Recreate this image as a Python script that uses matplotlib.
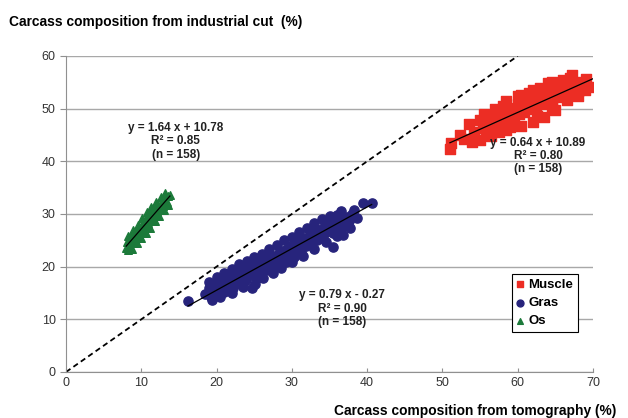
import matplotlib
matplotlib.use("Agg")
import matplotlib.pyplot as plt

plt.rcParams['font.family'] = ['Liberation Sans', 'DejaVu Sans']

# Muscle (red squares)
muscle_x = [51.0, 51.1, 52.3, 52.8, 53.9, 54.2, 55.0, 55.0, 55.4, 55.8, 56.0, 56.3, 56.6,
            56.9, 57.2, 57.4, 57.7, 58.0, 58.2, 58.5, 58.7, 59.0, 59.2, 59.5, 59.7, 60.0,
            60.2, 60.4, 60.7, 60.9, 61.2, 61.4, 61.7, 61.9, 62.1, 62.4, 62.6, 62.9, 63.1,
            63.3, 63.6, 63.8, 64.1, 64.3, 64.6, 64.8, 65.1, 65.3, 65.6, 65.9, 66.1, 66.4,
            66.7, 67.0, 67.2, 67.5, 67.8, 68.1, 68.5, 69.1, 69.8, 58.0, 60.5, 62.0, 64.0,
            53.5, 55.5, 57.0, 58.5, 60.0, 61.5, 63.0, 64.5, 66.0, 67.0,
            56.5, 57.5, 58.5, 59.0, 60.5, 62.0, 62.5, 63.5, 64.5, 65.0, 66.5, 68.0, 69.0]
muscle_y = [42.4, 43.4, 45.0, 44.2, 43.7, 45.6, 44.0, 47.8, 46.3, 45.2, 48.0, 46.8, 47.6,
            45.8, 48.6, 47.2, 49.0, 46.9, 48.2, 49.5, 47.6, 48.8, 50.2, 48.1, 49.6, 50.8,
            48.9, 50.1, 51.2, 49.4, 50.6, 51.8, 50.0, 51.0, 52.2, 50.5, 51.6, 52.6, 50.9,
            52.0, 53.0, 51.4, 52.4, 53.4, 51.8, 52.8, 53.8, 52.2, 53.2, 54.2, 52.6, 53.6,
            54.6, 53.0, 56.4, 54.0, 55.0, 53.5, 54.5, 55.7, 54.1, 50.6, 52.6, 53.6, 54.8,
            47.0, 49.0, 50.0, 51.5, 52.5, 53.0, 54.0, 55.0, 55.5, 55.9,
            44.9, 45.5, 45.9, 46.5, 46.8, 47.5, 48.6, 48.5, 50.2, 49.8, 51.6, 52.5, 53.6]

# Gras (navy circles)
gras_x = [16.2, 18.5, 19.0, 19.3, 19.4, 19.8, 20.1, 20.4, 20.7, 21.0, 21.2, 21.5, 21.8,
          22.0, 22.2, 22.5, 22.7, 23.0, 23.2, 23.4, 23.6, 23.9, 24.1, 24.4, 24.7, 24.8,
          25.0, 25.1, 25.3, 25.5, 25.8, 26.0, 26.2, 26.3, 26.6, 26.8, 27.0, 27.2, 27.4,
          27.7, 27.9, 28.1, 28.3, 28.6, 28.8, 29.0, 29.2, 29.4, 29.7, 29.9, 30.1, 30.3,
          30.5, 30.8, 31.0, 31.2, 31.4, 31.7, 31.9, 32.1, 32.4, 32.6, 32.8, 33.0, 33.3,
          33.5, 33.7, 34.0, 34.2, 34.4, 34.7, 35.0, 35.3, 35.4, 35.5, 35.7, 36.0, 36.2,
          36.5, 36.8, 37.0, 37.3, 37.6, 38.0, 39.4, 40.7,
          19.0, 20.0, 21.0, 22.0, 23.0, 24.0, 25.0, 26.0, 27.0, 28.0, 29.0, 30.0, 31.0,
          32.0, 33.0, 34.0, 35.0, 36.5, 37.3, 38.3,
          20.5, 22.0, 23.5, 25.8, 27.5, 28.5, 30.0, 31.5, 33.0, 34.5, 36.0, 36.8, 37.7, 38.6]
gras_y = [13.5, 14.8, 15.9, 14.2, 13.7, 16.5, 15.2, 17.3, 16.0, 15.1, 17.8, 16.6, 18.2,
          17.0, 15.9, 18.6, 17.5, 19.1, 16.8, 18.0, 19.8, 17.4, 18.9, 20.2, 15.9, 19.3,
          18.2, 16.8, 20.6, 19.6, 21.0, 19.0, 17.8, 20.3, 21.4, 20.0, 19.4, 21.8, 20.7,
          22.1, 20.2, 21.3, 22.6, 21.0, 23.0, 22.0, 20.8, 23.4, 22.4, 24.0, 23.0, 21.9,
          24.4, 23.5, 25.0, 22.8, 24.2, 25.4, 23.9, 24.9, 26.0, 24.5, 25.6, 26.5, 25.1,
          27.0, 26.0, 25.4, 27.4, 26.4, 28.0, 27.0, 28.5, 23.8, 26.4, 27.6, 29.8, 28.2,
          27.3, 29.0, 28.0, 29.5, 28.6, 30.0, 32.0, 32.1,
          17.0, 18.0, 18.8, 19.5, 20.5, 21.0, 21.8, 22.5, 23.4, 24.2, 25.0, 25.6, 26.5,
          27.3, 28.2, 29.0, 29.6, 30.6, 28.8, 30.8,
          14.3, 15.0, 16.2, 18.0, 18.8, 19.8, 20.8, 22.0, 23.3, 24.6, 25.8, 26.0, 27.3, 29.2]

# Os (green triangles)
os_x = [8.0, 8.1, 8.3, 8.4, 8.5, 8.7, 8.8, 9.0, 9.1, 9.3, 9.4, 9.6, 9.7, 9.9, 10.0, 10.2,
        10.3, 10.5, 10.6, 10.8, 10.9, 11.1, 11.2, 11.4, 11.5, 11.7, 11.8, 12.0, 12.1, 12.3,
        12.5, 12.7, 12.9, 13.1, 13.4, 13.6, 13.8,
        8.3, 8.9, 9.5, 10.1, 10.7, 11.3, 11.9, 12.6, 13.2,
        8.8, 9.4, 10.0, 10.6, 11.2, 11.8, 12.4, 13.0, 13.5]
os_y = [23.6, 24.6, 23.2, 25.2, 24.0, 25.8, 24.5, 26.2, 25.0, 26.8, 25.6, 27.2, 26.0, 27.8,
        26.6, 28.2, 27.2, 28.8, 27.8, 29.3, 28.3, 29.8, 28.9, 30.3, 29.5, 30.8, 30.0, 31.2,
        30.5, 31.6, 31.0, 32.2, 31.6, 32.6, 32.3, 33.4, 33.6,
        25.8, 27.0, 28.0, 29.2, 30.3, 31.3, 32.2, 33.2, 34.0,
        23.4, 24.4, 25.4, 26.4, 27.4, 28.6, 29.6, 30.8, 31.8]

# regression lines: slope, intercept, x range
fits = {
    'Muscle': (0.64, 10.89, 51.0, 70.0),
    'Gras': (0.79, -0.27, 16.2, 40.6),
    'Os': (1.64, 10.78, 8.0, 13.8),
}
labels = {
    'Muscle': ("y = 0.64 x + 10.89\nR\u00b2 = 0.80\n(n = 158)", 62.7, 41.0),
    'Gras': ("y = 0.79 x - 0.27\nR\u00b2 = 0.90\n(n = 158)", 36.7, 12.0),
    'Os': ("y = 1.64 x + 10.78\nR\u00b2 = 0.85\n(n = 158)", 14.6, 43.8),
}

fig = plt.figure(figsize=(6.28, 4.18), dpi=100)
ax = fig.add_axes([66/628, 1-372/418, 527/628, 316/418])

ax.set_xlim(0, 70)
ax.set_ylim(0, 60)
ax.set_xticks(range(0, 71, 10))
ax.set_yticks(range(0, 61, 10))
ax.grid(axis='y', color='#a8a8a8', linewidth=1)
ax.set_axisbelow(True)
for s in ['top', 'right']:
    ax.spines[s].set_visible(False)
for s in ['left', 'bottom']:
    ax.spines[s].set_color('#909090')
ax.tick_params(colors='#909090', labelcolor='#333333', labelsize=9, length=4)
ax.tick_params(axis='x', direction='in', length=3)

ax.plot([0, 60], [0, 60], color='black', linestyle=(0, (3, 2)), linewidth=1.3)

ax.scatter(muscle_x, muscle_y, marker='s', s=42, color='#ec2d24', label='Muscle', zorder=3)
ax.scatter(gras_x, gras_y, marker='o', s=44, color='#27247c', label='Gras', zorder=3)
ax.scatter(os_x, os_y, marker='^', s=30, color='#1c7a3a', label='Os', zorder=3)

for name, (a, b, x0, x1) in fits.items():
    ax.plot([x0, x1], [a*x0 + b, a*x1 + b], color='black', linewidth=0.9, zorder=4)

for name, (txt, tx, ty) in labels.items():
    ax.text(tx, ty, txt, ha='center', va='center', fontsize=8.5, fontweight='bold',
            color='#222222', linespacing=1.15, zorder=5)

leg = ax.legend(loc='upper left', bbox_to_anchor=(0.846, 0.31), frameon=True,
                fancybox=False, edgecolor='black', framealpha=1, handlelength=0.6,
                handletextpad=0.3, borderpad=0.35, labelspacing=0.45, borderaxespad=0,
                markerscale=0.75, prop={'weight': 'bold', 'size': 9.5})
leg.get_frame().set_linewidth(0.8)

fig.text(9/628, 1-22/418, 'Carcass composition from industrial cut  (%)', ha='left',
         va='center', fontsize=9.9, fontweight='bold')
fig.text(616/628, 1-411/418, 'Carcass composition from tomography (%)', ha='right',
         va='center', fontsize=9.9, fontweight='bold')

fig.savefig('out.png', dpi=100)
